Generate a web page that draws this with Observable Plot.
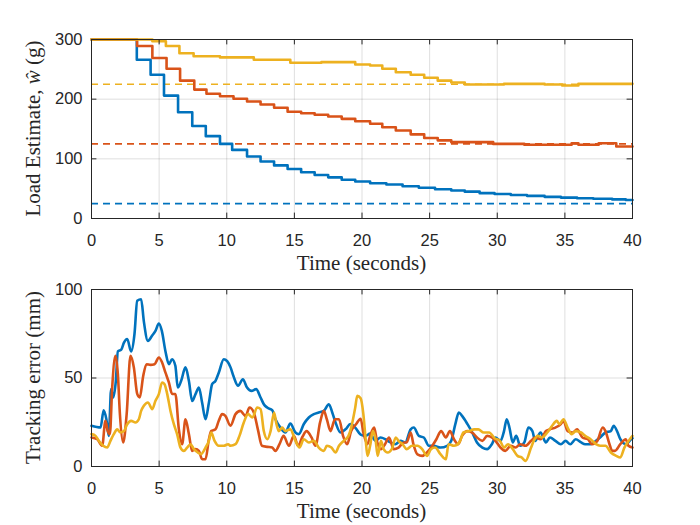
<!DOCTYPE html>
<html>
<head>
<meta charset="utf-8">
<script src="https://cdn.jsdelivr.net/npm/d3@7"></script>
<script src="https://cdn.jsdelivr.net/npm/@observablehq/plot@0.6"></script>
<style>
  body { margin: 0; background: #fff; }
  #wrap { width: 700px; height: 525px; }
  #wrap svg { display: block; }
</style>
</head>
<body>
<div id="wrap"></div>
<script>
// ---------- data ----------
const colors = ["#0072BD", "#D95319", "#EDB120"];
const xTicks = [0, 5, 10, 15, 20, 25, 30, 35, 40];
const loadTicks = [0, 100, 200, 300];
const errTicks = [0, 50, 100];
const targets = [25, 125, 225];

// Load estimate (step changes: [time, grams])
const loadBlue = [[0,300],[3.35,266],[4.37,241],[5.36,206],[6.4,178],[7.45,155],[8.45,138],[9.5,125],[10.4,115],[11.5,104],[12.5,95.5],[13.5,89],[14.5,83],[15.5,77.6],[16.5,73],[17.5,69],[18.5,65],[19.5,62],[20.6,59],[21.8,57],[23,54],[24.2,51.5],[25.4,49],[26.6,47],[27.6,45],[28.7,42.5],[29.8,41],[31,39.5],[32.2,38],[33.5,36.3],[34.7,35],[35.9,34],[37.1,33],[38.5,32],[39.5,31],[40,31]];
const loadOrange = [[0,300],[3.37,289],[4.5,269],[5.55,251],[6.55,231],[7.6,216],[8.5,209],[9.5,205],[10.5,200.6],[11.5,196],[12.5,191],[13.5,185.5],[14.5,179],[15.5,176.5],[16.5,174],[17.5,171],[18.5,167],[19.5,163],[20.6,158.7],[21.5,153],[22.5,147.5],[23.6,141],[24.6,135],[25.6,131],[26.6,128],[29.7,125],[32,123.5],[35.5,126],[36,123.5],[37.5,126],[38.8,120.7],[40,120.7]];
const loadYellow = [[0,300],[4.5,297],[5.5,289],[6.5,277],[7.55,272],[9.5,270],[12,266],[14.7,261],[17,262],[19.5,258],[20.6,256.5],[21.5,251],[22.5,245],[23.6,241],[24.6,236],[25.6,231],[26.6,228],[27.6,224.6],[30.5,225.7],[33.5,224.6],[34.8,223],[36,225.7],[40,225.7]];

// Tracking error ([time, mm])
const errBlue = [[0,23],[0.67,22],[0.9,31.8],[1.1,26.7],[1.28,17.3],[1.45,43.7],[1.6,39],[1.8,48.4],[1.95,65],[2.2,66],[2.4,70],[2.64,72],[2.93,65],[3.18,75],[3.38,93.6],[3.67,94.5],[3.87,82],[4.17,71],[4.49,74],[4.73,76.6],[4.98,80.8],[5.2,76.6],[5.47,65],[5.72,57.8],[5.96,60.6],[6.2,56.9],[6.38,44.6],[6.63,48.4],[6.95,56],[7.2,48.4],[7.44,37],[7.69,40.9],[7.94,44.6],[8.18,36],[8.43,26.7],[8.68,36],[8.92,46.5],[9.17,48.4],[9.41,53],[9.78,60.6],[10.03,59.5],[10.28,56],[10.5,51],[10.84,45.6],[11.19,49.3],[11.5,44.6],[11.83,42.7],[12.17,43.7],[12.5,39],[12.74,35.2],[12.99,33.3],[13.36,31.8],[13.6,26.7],[13.97,22],[14.34,19.2],[14.7,24.3],[15.08,19.2],[15.33,18.3],[15.7,24],[16.07,27.7],[16.44,29.6],[16.8,30.5],[17.18,31.4],[17.55,35.2],[17.8,30.5],[18.04,24.9],[18.41,19.2],[18.78,21],[19.15,24],[19.5,22],[19.9,18],[20.26,17.3],[20.6,18.6],[21,14.5],[21.37,16.4],[21.74,15.4],[22.1,13.6],[22.47,12.6],[22.85,14.5],[23.2,13.6],[23.6,21],[23.83,22],[24.2,17.3],[24.57,16.4],[24.94,11.7],[25.3,11.7],[25.8,10.7],[26.3,11.7],[26.6,14.5],[26.9,23.9],[27.16,30.5],[27.4,28.6],[27.8,23.9],[28.15,19.2],[28.5,13.6],[28.9,10.7],[29.25,9.8],[29.6,12.6],[29.87,16.4],[30.24,14.5],[30.5,20],[30.7,26.7],[30.9,22],[31.15,13.6],[31.4,17.3],[31.7,11.7],[32,13.6],[32.3,22],[32.6,20],[32.8,14.5],[33.2,19.2],[33.6,13.6],[33.9,16.4],[34.3,14.5],[34.7,12.6],[35.05,14.5],[35.4,12.6],[35.8,15.4],[36.2,13.6],[36.5,12.6],[36.9,12.6],[37.3,14.5],[37.6,16.4],[38,19.2],[38.4,20],[38.6,23],[38.9,19.2],[39.1,15.4],[39.5,12.6],[39.9,15.4],[40,16]];
const errOrange = [[0,16.4],[0.42,15.4],[0.79,11.7],[1.03,25.8],[1.2,20],[1.36,18.3],[1.53,44.6],[1.77,62.5],[1.95,52],[2.1,29.6],[2.34,13.6],[2.6,29.6],[2.88,62.5],[3.13,56],[3.38,41],[3.57,39],[3.82,51],[4.07,57.8],[4.36,57.4],[4.66,57.8],[4.98,61.6],[5.22,58.8],[5.47,53],[5.72,47.5],[5.96,41],[6.2,41],[6.46,21],[6.7,12.6],[6.95,26.7],[7.2,18.3],[7.44,8.8],[7.69,9.8],[7.94,8.8],[8.18,4.1],[8.43,4.1],[8.68,15.4],[8.85,20],[9.17,21],[9.41,25.8],[9.66,29.6],[9.9,28.6],[10.28,23],[10.65,29.6],[11,31.4],[11.4,28.6],[11.68,33.3],[12,30.5],[12.3,21],[12.6,11.7],[13,11.1],[13.36,10.7],[13.6,8.8],[13.9,12.6],[14.2,17.3],[14.6,11.7],[14.96,17.3],[15.28,11.7],[15.6,16.8],[15.9,20],[16.27,16.4],[16.56,11.7],[16.9,24.9],[17.18,31.4],[17.4,26.7],[17.67,20],[18,26.7],[18.3,26.7],[18.6,17.3],[18.9,12.6],[19.2,20],[19.57,24],[19.9,27],[20.1,19.2],[20.4,12.6],[20.6,17.3],[20.9,22],[21.1,14.5],[21.4,9.8],[21.7,12.6],[22,16.4],[22.35,9.8],[22.7,10.7],[23.1,13.6],[23.3,13.6],[23.6,19.2],[23.8,12.6],[24.1,6.8],[24.45,6],[24.8,7.9],[25.2,11.7],[25.5,15.4],[25.85,20],[26.2,16.4],[26.5,20],[26.8,15.4],[27.1,12.6],[27.4,17.3],[27.8,20],[28.15,19.2],[28.5,16.4],[28.9,14.5],[29.25,17.3],[29.6,16.4],[29.87,14.5],[30.24,10.7],[30.6,8.8],[31,11.7],[31.35,10.7],[31.7,12.6],[32.1,11.7],[32.5,14.5],[32.8,16.4],[33.2,15.4],[33.6,20],[33.9,21],[34.3,22],[34.7,23.9],[34.9,25.8],[35.2,20],[35.6,19.2],[35.9,21],[36.3,16.4],[36.7,15.4],[37,12.6],[37.4,14.5],[37.8,22],[38,20],[38.3,12.6],[38.5,8.8],[38.7,8.8],[39.1,12.6],[39.5,15.4],[39.7,11.7],[40,10.7]];
const errYellow = [[0,18.3],[0.3,17.3],[0.54,14.5],[0.86,11.7],[1.16,10.7],[1.4,14.5],[1.65,18.3],[1.9,21],[2.14,19.2],[2.4,20],[2.64,23.9],[2.93,25.8],[3.25,24.9],[3.5,26.7],[3.67,31.4],[3.87,34.3],[4.17,36.2],[4.49,32.4],[4.73,37.1],[4.98,40.9],[5.22,47.5],[5.4,46.5],[5.6,40.9],[5.84,31.4],[6.09,23.9],[6.33,18.3],[6.58,10.7],[6.83,8.8],[7.07,10.7],[7.32,12.6],[7.57,9.8],[7.86,7.9],[8.1,7],[8.43,10.7],[8.68,14.5],[8.85,19.2],[9.1,14.5],[9.41,11.7],[9.78,11.7],[10.1,12.6],[10.28,11.7],[10.65,12.6],[10.94,17.3],[11.26,24.9],[11.58,29.6],[11.9,27.7],[12.25,33.3],[12.5,32.4],[12.74,20],[13,15.4],[13.24,20],[13.5,30.5],[13.65,24.9],[13.85,20],[14.1,22],[14.34,20],[14.7,21],[15.08,14.5],[15.38,10.7],[15.7,15.4],[16.07,13.6],[16.44,14.5],[16.8,10.7],[17.18,8.8],[17.4,11.7],[17.74,10.7],[18.04,7.9],[18.3,11.7],[18.65,14.5],[19,17.3],[19.2,22],[19.5,33.3],[19.65,39.9],[19.9,38.5],[20.1,29.6],[20.26,16.4],[20.4,6],[20.6,11.7],[20.8,20],[21,15.4],[21.16,6],[21.4,14.5],[21.6,9.8],[21.9,7.9],[22.2,9.8],[22.5,16.4],[22.7,14.5],[23,12.6],[23.3,9.8],[23.7,11.7],[24.1,11.7],[24.45,9.8],[24.8,6],[25.1,9.8],[25.4,10.7],[25.8,7],[26.2,4.1],[26.4,12.6],[26.8,11.7],[27.2,13.6],[27.5,19.2],[27.9,20],[28.3,21],[28.6,21],[29,19.2],[29.4,19.2],[29.8,16],[30.2,14.5],[30.5,10.7],[30.8,12.6],[31.15,9.8],[31.5,6],[31.8,5.1],[32.1,3.2],[32.5,10.7],[32.7,14.5],[33,17.3],[33.3,16.4],[33.7,19.2],[34.06,23],[34.4,25.8],[34.6,23.9],[34.9,26.7],[35.2,22],[35.5,18.3],[35.8,20],[36.2,19.2],[36.5,17.3],[36.9,15.4],[37.3,12.6],[37.6,11.7],[38,11.7],[38.4,7.9],[38.8,6],[39.1,5.1],[39.4,10.7],[39.8,15.4],[40,17.3]];

const xLabel = "Time (seconds)";
const loadLabelPre = "Load Estimate, ";
const loadLabelVar = "\u0175";
const loadLabelPost = " (g)";
const errLabel = "Tracking error (mm)";

// ---------- drawing ----------
const W = 700, ML = 91, MR = 68;
const axisColor = "#262626";
const tickLen = 5.4;
const serif = "'Liberation Serif', 'Times New Roman', serif";
const sans = "'Liberation Sans', Arial, Helvetica, sans-serif";

function axesBack(yTicks) {
  return [
    Plot.gridX(xTicks, {stroke: axisColor, strokeOpacity: 0.15, strokeWidth: 1}),
    Plot.gridY(yTicks, {stroke: axisColor, strokeOpacity: 0.15, strokeWidth: 1})
  ];
}
function axesFront(innerW, innerH, yTicks) {
  return [
    Plot.frame({stroke: axisColor, strokeWidth: 1}),
    Plot.tickX(xTicks, {x: d => d, insetTop: innerH - tickLen, stroke: axisColor}),
    Plot.tickX(xTicks, {x: d => d, insetBottom: innerH - tickLen, stroke: axisColor}),
    Plot.tickY(yTicks, {y: d => d, insetRight: innerW - tickLen, stroke: axisColor}),
    Plot.tickY(yTicks, {y: d => d, insetLeft: innerW - tickLen, stroke: axisColor}),
    Plot.axisX(xTicks, {tickSize: 0, tickPadding: 16, label: null, fill: axisColor}),
    Plot.axisY(yTicks, {tickSize: 0, tickPadding: 9, label: null, fill: axisColor})
  ];
}

const style = {fontFamily: sans, fontSize: "16.5px", color: axisColor, background: "white", overflow: "visible"};

// Top plot
const topH = 280, topMT = 39, topMB = 62;
const topInnerH = topH - topMT - topMB, innerW = W - ML - MR;
const loadSeries = [loadBlue, loadOrange, loadYellow];
const topChart = Plot.plot({
  width: W, height: topH, marginLeft: ML, marginRight: MR, marginTop: topMT, marginBottom: topMB,
  style,
  x: {domain: [0, 40]},
  y: {domain: [0, 300]},
  marks: [
    ...axesBack(loadTicks),
    ...targets.map((t, i) => Plot.ruleY([t], {y: d => d, stroke: colors[i], strokeWidth: 1.7, strokeDasharray: "7,5"})),
    ...loadSeries.map((s, i) => Plot.line(s, {x: d => d[0], y: d => d[1], curve: "step-after", stroke: colors[i], strokeWidth: 2.6})),
    ...axesFront(innerW, topInnerH, loadTicks)
  ]
});

// Bottom plot
const botH = 245, botMT = 9, botMB = 59;
const botInnerH = botH - botMT - botMB;
const errSeries = [errBlue, errOrange, errYellow];
const bottomChart = Plot.plot({
  width: W, height: botH, marginLeft: ML, marginRight: MR, marginTop: botMT, marginBottom: botMB,
  style,
  x: {domain: [0, 40]},
  y: {domain: [0, 100]},
  marks: [
    ...axesBack(errTicks),
    ...errSeries.map((s, i) => Plot.line(s, {x: d => d[0], y: d => d[1], curve: "monotone-x", stroke: colors[i], strokeWidth: 2.6})),
    ...axesFront(innerW, botInnerH, errTicks)
  ]
});

const wrap = document.getElementById("wrap");
wrap.appendChild(topChart);
wrap.appendChild(bottomChart);

function addLabels(svgEl, yCenter, xBaseline, buildY) {
  const svg = d3.select(svgEl);
  svg.append("text")
    .attr("x", ML + innerW / 2).attr("y", xBaseline)
    .attr("text-anchor", "middle")
    .attr("font-family", serif).attr("font-size", 21).attr("fill", axisColor)
    .text(xLabel);
  const yl = svg.append("text")
    .attr("transform", `translate(40,${yCenter}) rotate(-90)`)
    .attr("text-anchor", "middle")
    .attr("font-family", serif).attr("font-size", 21).attr("fill", axisColor);
  buildY(yl);
}
addLabels(topChart, topMT + topInnerH / 2, 270.3, t => {
  t.append("tspan").text(loadLabelPre);
  t.append("tspan").attr("font-style", "italic").text(loadLabelVar);
  t.append("tspan").text(loadLabelPost);
});
addLabels(bottomChart, botMT + botInnerH / 2, 238.3, t => t.text(errLabel));
</script>
</body>
</html>
